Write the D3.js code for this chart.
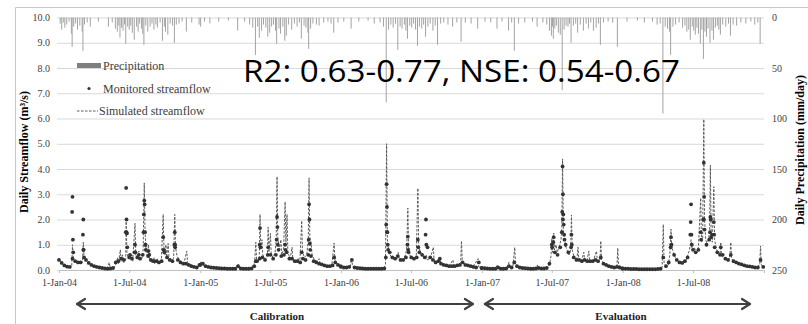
<!DOCTYPE html>
<html>
<head>
<meta charset="utf-8">
<script src="https://cdn.jsdelivr.net/npm/d3@7"></script>
<style>
  body { margin: 0; background: #fff; }
  svg { display: block; font-family: "Liberation Serif", "DejaVu Serif", serif; }
</style>
</head>
<body>
<svg id="chart" width="808" height="324"></svg>
<script>
// values (streamflow m3/s, precipitation mm/day)
const years = [2004, 2005, 2006, 2007, 2008];
const xTicks = ["2004-01-01", "2004-07-01", "2005-01-01", "2005-07-01", "2006-01-01",
                "2006-07-01", "2007-01-01", "2007-07-01", "2008-01-01", "2008-07-01"];
const flowTicks = [0, 1, 2, 3, 4, 5, 6, 7, 8, 9, 10];
const rainTicks = [0, 50, 100, 150, 200, 250];
const periods = ["Calibration", "Evaluation"];
const periodBounds = [["2004-01-01", "2007-01-01"], ["2007-01-01", "2009-01-01"]];
const statsText = "R2: 0.63-0.77, NSE: 0.54-0.67";

// simulated streamflow, [month-day, value]
const sim2004 = [["01-01",.40],["01-06",.30],["01-12",.22],["01-20",.15],["01-28",.12],["02-03",.15],["02-05",1.0],["02-07",.45],
  ["02-12",.35],["02-18",.30],["02-25",.28],["03-02",.30],["03-04",1.1],["03-06",.50],["03-10",.40],["03-18",.28],["03-26",.20],
  ["04-05",.14],["04-15",.10],["04-25",.07],["05-05",.05],["05-10",.30],["05-13",.08],["05-22",.06],["05-28",.25],["06-01",.50],
  ["06-03",.25],["06-08",.80],["06-10",.35],["06-14",.60],["06-17",.30],["06-22",.40],["06-23",2.0],["06-25",.70],["06-28",.50],
  ["07-03",.45],["07-08",.60],["07-10",.35],["07-16",1.85],["07-18",.60],["07-22",.45],["07-26",.75],["07-29",.40],["08-03",.45],
  ["08-06",.80],["08-09",3.45],["08-11",1.5],["08-14",.70],["08-17",.50],["08-20",1.0],["08-22",.45],["08-28",.30],["09-03",.50],
  ["09-05",.25],["09-12",.45],["09-15",.25],["09-22",.30],["09-27",2.2],["09-29",.80],["10-02",.60],["10-04",1.0],["10-06",.50],
  ["10-10",1.05],["10-12",.50],["10-18",.40],["10-24",.45],["10-27",2.2],["10-29",.90],["11-02",.55],["11-08",.40],["11-14",.30],
  ["11-20",.28],["11-27",.75],["11-29",.30],["12-05",.22],["12-15",.15],["12-25",.12],["12-31",.20]];
const sim2005 = [["01-03",.35],["01-08",.20],["01-18",.12],["02-01",.10],["02-15",.08],["03-01",.06],["03-20",.05],["04-05",.05],
  ["04-10",.22],["04-13",.06],["04-25",.05],["05-05",.05],["05-15",.08],["05-22",.30],["05-25",1.1],["05-27",.40],["05-31",.35],
  ["06-03",.50],["06-05",2.2],["06-07",.80],["06-10",1.2],["06-12",.60],["06-18",.45],["06-24",.55],["06-26",1.7],["06-28",.70],
  ["07-02",1.45],["07-04",.60],["07-09",.50],["07-14",.70],["07-17",1.2],["07-19",3.7],["07-21",1.3],["07-25",.80],["07-29",1.2],
  ["07-31",.60],["08-05",.80],["08-09",2.7],["08-11",1.1],["08-14",2.2],["08-16",.70],["08-22",.45],["08-27",.90],["08-29",.40],
  ["09-05",.30],["09-12",.45],["09-16",.30],["09-21",1.95],["09-23",.70],["09-28",.50],["10-04",.60],["10-08",1.2],["10-10",3.65],
  ["10-12",1.3],["10-15",1.1],["10-18",.60],["10-24",.40],["10-30",.35],["11-05",.45],["11-08",.25],["11-15",.20],["11-22",.18],
  ["12-01",.15],["12-08",.20],["12-14",1.07],["12-16",.40],["12-22",.25],["12-31",.15]];
const sim2006 = [["01-05",.12],["01-15",.10],["01-25",.15],["01-28",.45],["01-31",.15],["02-10",.08],["02-25",.06],["03-10",.05],
  ["03-25",.05],["04-10",.05],["04-22",.06],["04-26",.20],["04-29",5.0],["05-01",1.2],["05-04",.80],["05-08",.60],["05-14",.45],
  ["05-20",.50],["05-27",.45],["05-29",.70],["06-01",.40],["06-08",.35],["06-14",.45],["06-20",.80],["06-23",2.45],["06-25",.90],
  ["06-29",.55],["07-05",.45],["07-10",.40],["07-15",.60],["07-19",3.24],["07-21",1.0],["07-25",.70],["08-01",.55],["08-06",.45],
  ["08-10",.60],["08-12",.40],["08-20",.45],["08-28",.90],["08-30",.40],["09-06",.30],["09-14",.40],["09-18",.25],["09-28",.18],
  ["10-08",.15],["10-18",.40],["10-20",.15],["10-30",.20],["11-07",.30],["11-09",1.15],["11-11",.35],["11-18",.22],["11-28",.18],
  ["12-05",.15],["12-12",.20],["12-22",.45],["12-24",.12],["12-30",.08]];
const sim2007 = [["01-05",.06],["01-20",.05],["02-05",.05],["02-10",.20],["02-12",.05],["02-25",.05],["03-08",.08],["03-12",.30],
  ["03-14",.08],["03-22",.10],["03-27",.90],["03-29",.25],["04-05",.12],["04-15",.08],["04-28",.06],["05-10",.05],["05-20",.08],
  ["05-25",.20],["05-27",.06],["06-05",.05],["06-15",.08],["06-22",.10],["06-26",.30],["06-29",.55],["07-01",1.25],["07-03",.70],
  ["07-06",1.46],["07-08",.80],["07-12",1.0],["07-15",.70],["07-20",.90],["07-25",1.2],["07-27",1.6],["07-29",4.4],["07-31",1.6],
  ["08-03",1.2],["08-07",.90],["08-12",.70],["08-15",.60],["08-19",.80],["08-21",2.18],["08-23",.80],["08-28",.50],["09-04",.40],
  ["09-07",.90],["09-09",.40],["09-16",.35],["09-22",.70],["09-24",.40],["09-30",.35],["10-05",.75],["10-07",.35],["10-15",.30],
  ["10-25",.75],["10-27",.35],["11-03",.40],["11-05",1.15],["11-07",.40],["11-14",.25],["11-22",.18],["12-01",.15],["12-10",.12],
  ["12-17",.15],["12-19",.87],["12-21",.20],["12-28",.08]];
const sim2008 = [["01-05",.06],["01-20",.04],["02-05",.04],["02-20",.03],["03-05",.03],["03-20",.03],["04-05",.04],["04-12",.10],
  ["04-15",1.8],["04-17",.30],["04-22",.15],["04-28",.20],["05-02",.60],["05-05",1.62],["05-07",.90],["05-11",.70],["05-16",.50],
  ["05-23",.35],["05-30",.28],["06-06",.25],["06-12",.35],["06-18",.60],["06-22",.80],["06-26",1.2],["06-29",.80],["07-04",.90],
  ["07-10",.70],["07-15",.90],["07-21",2.85],["07-23",1.1],["07-26",1.2],["07-29",5.97],["07-31",2.0],["08-03",1.2],["08-07",1.0],
  ["08-11",1.3],["08-13",1.6],["08-15",4.15],["08-17",1.5],["08-20",1.1],["08-24",3.3],["08-26",1.2],["08-31",.80],["09-04",.70],
  ["09-09",.60],["09-11",1.1],["09-13",.55],["09-23",.45],["09-30",.40],["10-04",.45],["10-07",1.1],["10-09",.45],["10-15",.35],
  ["10-24",.30],["11-02",.22],["11-12",.18],["11-22",.15],["12-02",.12],["12-12",.10],["12-21",.20],["12-23",.95],["12-25",.20],
  ["12-31",.12]];

// monitored streamflow: one reading per week from 1 Jan, plus the storm-day readings
const obs2004 = [.40,.28,.18,.13,.12,.45,.35,.30,.30,.80,.40,.28,.20,.15,.12,.10,.08,.06,.05,.06,.08,.30,.35,.45,.40,1.5,
  .50,.45,.70,.50,.45,.60,1.0,.55,.40,.35,.35,.30,.35,.70,.50,.40,.35,1.0,.40,.30,.25,.25,.20,.15,.12,.10,.20];
const obs2005 = [.20,.25,.15,.12,.10,.09,.08,.07,.06,.06,.05,.05,.05,.05,.15,.06,.05,.05,.05,.06,.15,.35,.45,.50,.40,.60,
  .60,.45,.60,.80,.55,.60,.70,.45,.45,.35,.35,.30,.45,.40,.60,.55,.35,.30,.25,.22,.18,.15,.15,.18,.30,.20,.15];
const obs2006 = [.12,.10,.10,.12,.40,.10,.08,.07,.06,.05,.05,.05,.05,.05,.05,.05,.06,1.5,.70,.50,.45,.55,.40,.40,.50,.70,
  .50,.45,.50,.70,.60,.50,.90,.50,.40,.30,.35,.25,.20,.18,.15,.15,.15,.18,.20,.30,.20,.18,.15,.12,.10,.30,.08];
const obs2007 = [.08,.07,.06,.05,.05,.05,.10,.05,.05,.06,.15,.10,.30,.15,.10,.08,.07,.06,.05,.05,.06,.08,.06,.06,.08,.25,
  .90,.70,.60,.90,2.0,1.0,.70,.90,.50,.40,.40,.35,.40,.35,.35,.35,.40,.35,.50,.25,.20,.15,.12,.10,.12,.10,.06];
const obs2008 = [.06,.05,.05,.04,.04,.04,.03,.03,.03,.03,.03,.03,.03,.04,.05,.50,.15,.30,1.0,.60,.40,.30,.28,.35,.50,1.4,
  .80,.70,.80,1.2,2.0,1.0,1.2,1.4,.90,.70,.60,.60,.45,.40,.60,.35,.30,.25,.22,.18,.15,.14,.12,.10,.10,.40,.12];
const obsPeaks2004 = [["02-04",2.3],["02-05",2.9],["02-06",1.2],["02-07",.70],["03-03",1.4],["03-04",2.0],["03-05",.80],["03-06",.50],
  ["06-22",1.5],["06-23",3.25],["06-24",2.0],["06-25",1.45],["06-26",.90],["07-03",.60],["07-16",1.0],["07-17",.70],["07-26",.60],
  ["08-07",1.5],["08-08",2.2],["08-09",2.75],["08-10",2.6],["08-11",1.5],["08-12",1.0],["08-13",.80],["08-20",.75],["08-22",.60],
  ["09-27",1.3],["09-28",.80],["10-26",1.0],["10-27",1.5],["10-28",.90]];
const obsPeaks2005 = [["05-25",.35],["06-04",1.0],["06-05",1.66],["06-06",.90],["06-26",.90],["07-18",1.2],["07-19",2.1],["07-20",1.7],
  ["07-21",1.0],["08-09",1.0],["08-10",.80],["09-21",.70],["10-09",1.2],["10-10",2.6],["10-11",2.0],["10-12",1.04],["10-13",.80],
  ["12-14",.50]];
const obsPeaks2006 = [["04-27",.50],["04-28",1.8],["04-29",3.4],["04-30",2.5],["05-01",1.5],["05-02",1.0],["05-03",.80],["06-22",1.0],
  ["06-23",1.32],["06-24",.80],["07-19",1.2],["07-20",.90],["08-08",1.4],["08-09",2.0],["08-10",1.0],["09-14",.45]];
const obsPeaks2007 = [["07-01",1.0],["07-05",1.1],["07-06",1.3],["07-27",1.5],["07-28",2.3],["07-29",4.1],["07-30",3.0],["07-31",2.2],
  ["08-01",1.8],["08-02",1.4],["08-03",1.2],["08-21",1.4],["08-22",1.0]];
const obsPeaks2008 = [["05-04",.90],["05-05",1.3],["05-06",1.0],["06-25",1.9],["06-26",2.6],["06-27",1.4],["06-28",1.0],["07-21",1.5],
  ["07-28",2.0],["07-29",4.25],["07-30",2.9],["07-31",1.6],["08-14",1.5],["08-15",2.1],["08-16",2.0],["08-17",1.3],["08-24",1.9],
  ["08-25",1.4],["09-11",.90]];

// daily precipitation, [month-day, mm]
const prec2004 = [["01-04",6],["01-08",12],["01-12",5],["01-16",10],["01-21",7],["01-27",4],["02-02",16],["02-04",29],["02-08",9],
  ["02-13",6],["02-18",12],["02-24",8],["03-01",14],["03-03",33],["03-07",7],["03-14",5],["03-22",9],["04-12",4],["05-08",9],
  ["05-18",5],["05-26",11],["05-31",14],["06-04",8],["06-07",20],["06-11",10],["06-15",13],["06-19",7],["06-22",26],["06-27",9],
  ["07-01",12],["07-05",8],["07-09",15],["07-14",22],["07-20",9],["07-24",14],["07-28",6],["08-02",11],["08-05",16],["08-08",27],
  ["08-13",8],["08-18",14],["08-24",9],["08-29",6],["09-03",12],["09-08",7],["09-12",10],["09-19",5],["09-25",23],["09-30",9],
  ["10-03",14],["10-09",17],["10-15",6],["10-21",8],["10-26",25],["10-31",7],["11-07",6],["11-15",4],["11-26",14],["12-10",5],
  ["12-29",7]];
const prec2005 = [["01-02",9],["01-12",4],["01-26",6],["02-18",4],["03-15",3],["04-08",13],["04-26",4],["05-09",7],["05-17",10],
  ["05-24",37],["05-30",9],["06-03",20],["06-09",13],["06-14",7],["06-20",10],["06-25",19],["06-30",15],["07-05",9],["07-10",7],
  ["07-15",13],["07-18",26],["07-24",11],["07-28",16],["08-03",9],["08-08",23],["08-12",18],["08-18",7],["08-26",12],["09-02",6],
  ["09-09",9],["09-15",5],["09-20",21],["09-27",8],["10-02",10],["10-07",15],["10-09",31],["10-14",11],["10-20",6],["10-29",7],
  ["11-05",8],["11-17",5],["11-28",4],["12-06",6],["12-13",15],["12-24",5]];
const prec2006 = [["01-08",4],["01-27",11],["02-16",4],["03-12",3],["03-28",6],["04-12",5],["04-21",9],["04-28",84],["05-04",12],
  ["05-10",7],["05-16",10],["05-22",6],["05-28",32],["06-03",9],["06-08",11],["06-14",7],["06-18",13],["06-22",21],["06-28",8],
  ["07-03",10],["07-08",6],["07-13",12],["07-18",28],["07-23",9],["07-29",11],["08-03",7],["08-08",19],["08-14",9],["08-20",6],
  ["08-27",13],["09-02",8],["09-08",27],["09-16",6],["09-24",5],["10-05",7],["10-17",9],["10-28",5],["11-08",24],["11-19",5],
  ["12-04",6],["12-21",11]];
const prec2007 = [["01-09",4],["01-24",5],["02-09",11],["02-22",4],["03-11",13],["03-19",5],["03-26",33],["04-06",6],["04-22",5],
  ["05-12",4],["05-24",9],["06-08",5],["06-18",7],["06-25",13],["06-30",18],["07-03",9],["07-05",21],["07-09",11],["07-13",8],
  ["07-18",15],["07-23",17],["07-28",72],["08-02",12],["08-07",8],["08-12",9],["08-16",6],["08-20",25],["08-26",8],["09-01",6],
  ["09-06",15],["09-13",7],["09-21",13],["09-28",6],["10-04",11],["10-10",5],["10-17",13],["10-24",10],["10-30",6],["11-04",27],
  ["11-12",5],["11-24",4],["12-06",5],["12-18",29]];
const prec2008 = [["01-12",4],["02-08",3],["02-26",5],["03-18",4],["03-30",7],["04-07",6],["04-14",95],["04-20",9],["04-26",11],
  ["05-01",14],["05-04",37],["05-10",9],["05-17",7],["05-26",5],["06-04",10],["06-10",8],["06-15",14],["06-20",12],["06-24",22],
  ["06-29",9],["07-03",13],["07-07",17],["07-11",10],["07-15",16],["07-20",26],["07-24",12],["07-28",41],["08-01",14],["08-05",19],
  ["08-09",11],["08-14",25],["08-19",13],["08-23",22],["08-28",10],["09-02",8],["09-06",12],["09-10",17],["09-16",7],["09-24",9],
  ["10-01",6],["10-06",18],["10-13",7],["10-22",8],["11-02",5],["11-15",6],["11-28",4],["12-08",7],["12-16",5],["12-22",26]];

const parse = d3.utcParse("%Y-%m-%d");
const byYear = (lists) => years.flatMap((yr, i) =>
  lists[i].map(([md, v]) => ({ date: parse(yr + "-" + md), value: v })));

const simulated = byYear([sim2004, sim2005, sim2006, sim2007, sim2008]);
const precipitation = byYear([prec2004, prec2005, prec2006, prec2007, prec2008]);
const monitored = years.flatMap((yr, i) =>
    [obs2004, obs2005, obs2006, obs2007, obs2008][i].map((v, k) =>
      ({ date: d3.utcDay.offset(parse(yr + "-01-01"), 7 * k), value: v })))
  .concat(byYear([obsPeaks2004, obsPeaks2005, obsPeaks2006, obsPeaks2007, obsPeaks2008]));

const svg = d3.select("#chart");
const margin = { top: 17.5, right: 44, bottom: 54, left: 59 };
const width = 808 - margin.left - margin.right;
const height = 324 - margin.top - margin.bottom;

// frame around the figure
svg.append("path")
  .attr("d", "M15.5,324 V7.5 H808")
  .attr("fill", "none").attr("stroke", "#c8c8c8");

const g = svg.append("g").attr("transform", `translate(${margin.left},${margin.top})`);

const x = d3.scaleUtc().domain([parse("2004-01-01"), parse("2009-01-01")]).range([0, width]);
const yFlow = d3.scaleLinear().domain([0, 10]).range([height, 0]);
const yRain = d3.scaleLinear().domain([0, 250]).range([0, height]);

// gridlines
g.append("g")
  .call(d3.axisLeft(yFlow).tickValues(flowTicks).tickSize(-width - 2).tickFormat(""))
  .attr("transform", "translate(-2,0)")
  .call(s => s.select(".domain").remove())
  .selectAll("line").attr("stroke", "#d9d9d9");

// left axis
g.append("g")
  .call(d3.axisLeft(yFlow).tickValues(flowTicks).tickSize(0).tickPadding(9).tickFormat(d3.format(".1f")))
  .call(s => s.select(".domain").remove())
  .selectAll("text").attr("font-size", 10).attr("fill", "#404040")
  .attr("font-family", "Liberation Serif, serif");

// right axis
g.append("g")
  .attr("transform", `translate(${width},0)`)
  .call(d3.axisRight(yRain).tickValues(rainTicks).tickSize(0).tickPadding(8))
  .call(s => s.select(".domain").remove())
  .selectAll("text").attr("font-size", 10).attr("fill", "#404040")
  .attr("font-family", "Liberation Serif, serif");

// bottom axis
g.append("g")
  .attr("transform", `translate(0,${height})`)
  .call(d3.axisBottom(x).tickValues(xTicks.map(parse)).tickSize(3).tickPadding(6)
    .tickFormat(d3.utcFormat("%-d-%b-%y")))
  .call(s => s.select(".domain").attr("stroke", "#bfbfbf"))
  .call(s => s.selectAll("line").attr("stroke", "#bfbfbf"))
  .selectAll("text").attr("font-size", 10).attr("fill", "#404040")
  .attr("font-family", "Liberation Serif, serif");

// precipitation bars hanging from the top
g.append("g").selectAll("rect")
  .data(precipitation)
  .join("rect")
  .attr("x", d => x(d.date) - 0.5)
  .attr("y", yRain(0))
  .attr("width", 1)
  .attr("height", d => yRain(d.value) - yRain(0))
  .attr("fill", "#a3a3a3");

// simulated streamflow
const line = d3.line().x(d => x(d.date)).y(d => yFlow(d.value));
g.append("path")
  .datum(simulated.sort((a, b) => a.date - b.date))
  .attr("d", line)
  .attr("fill", "none")
  .attr("stroke", "#5a5a5a")
  .attr("stroke-width", 1)
  .attr("stroke-dasharray", "2.5,1.5");

// monitored streamflow
g.append("g").selectAll("circle")
  .data(monitored)
  .join("circle")
  .attr("cx", d => x(d.date))
  .attr("cy", d => yFlow(d.value))
  .attr("r", 1.9)
  .attr("fill", "#333");

// legend
const legend = svg.append("g").attr("font-size", 12).attr("fill", "#404040");
legend.append("rect").attr("x", 77).attr("y", 63).attr("width", 24).attr("height", 5).attr("fill", "#7f7f7f");
legend.append("text").attr("x", 103).attr("y", 69.5).text("Precipitation");
legend.append("circle").attr("cx", 89).attr("cy", 88.5).attr("r", 1.6).attr("fill", "#333");
legend.append("text").attr("x", 103).attr("y", 92.5).text("Monitored streamflow");
legend.append("line").attr("x1", 77).attr("x2", 98).attr("y1", 111).attr("y2", 111)
  .attr("stroke", "#5a5a5a").attr("stroke-dasharray", "2.5,1.5");
legend.append("text").attr("x", 99).attr("y", 115).text("Simulated streamflow");

// model fit statistics
svg.append("text")
  .attr("x", 243).attr("y", 82)
  .attr("font-family", "Open Sans, Noto Sans, sans-serif")
  .attr("font-size", 31)
  .attr("textLength", 437).attr("lengthAdjust", "spacingAndGlyphs")
  .attr("fill", "#000")
  .text(statsText);

// axis titles
svg.append("text")
  .attr("transform", "translate(28,152) rotate(-90)")
  .attr("text-anchor", "middle").attr("font-size", 12).attr("font-weight", "bold")
  .text("Daily Streamflow (m³/s)");
svg.append("text")
  .attr("transform", "translate(804,150) rotate(-90)")
  .attr("text-anchor", "middle").attr("font-size", 12).attr("font-weight", "bold")
  .text("Daily Precipitation (mm/day)");

// calibration / evaluation arrows
const arrowY = 304;
const arrows = svg.append("g").attr("fill", "none").attr("stroke", "#404040")
  .attr("stroke-width", 2.2).attr("stroke-linecap", "round").attr("stroke-linejoin", "round");
const insets = [[18, 9], [3, 14]];
periodBounds.forEach(([a, b], i) => {
  const x0 = margin.left + x(parse(a)) + insets[i][0];
  const x1 = margin.left + x(parse(b)) - insets[i][1];
  arrows.append("path").attr("d", `M${x0},${arrowY} H${x1}`);
  arrows.append("path").attr("d", `M${x0 + 8},${arrowY - 5} L${x0},${arrowY} L${x0 + 8},${arrowY + 5}`);
  arrows.append("path").attr("d", `M${x1 - 8},${arrowY - 5} L${x1},${arrowY} L${x1 - 8},${arrowY + 5}`);
});
const labelX = [277, 621];
svg.append("g").selectAll("text")
  .data(periods)
  .join("text")
  .attr("x", (d, i) => labelX[i])
  .attr("y", 320)
  .attr("text-anchor", "middle")
  .attr("font-size", 11).attr("font-weight", "bold").attr("fill", "#222")
  .text(d => d);
</script>
</body>
</html>
